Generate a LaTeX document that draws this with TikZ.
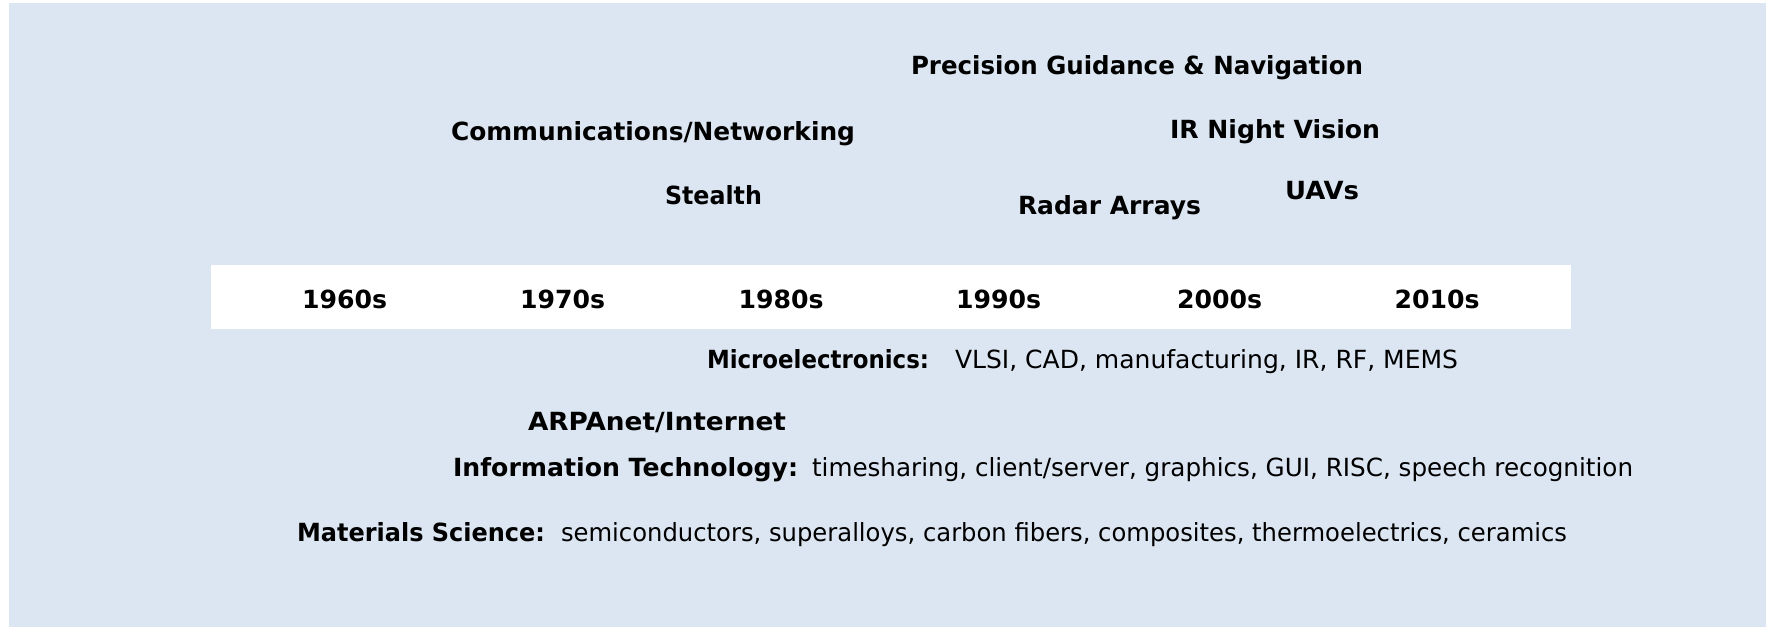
\documentclass[tikz,border=0pt]{standalone}
\usepackage{fontspec}
\setmainfont{DejaVu Sans}
\usepackage{graphicx}
\definecolor{bgblue}{RGB}{220,230,242}
\newcommand\fitw[2]{\resizebox{#1}{\height}{#2}}
\tikzset{
  lbl/.style={anchor=base west, inner sep=0pt, outer sep=0pt, font=\fontsize{25}{30}\selectfont\bfseries, text=black},
  txt/.style={anchor=base west, inner sep=0pt, outer sep=0pt, font=\fontsize{25}{30}\selectfont, text=black},
  decade/.style={anchor=base, inner sep=0pt, outer sep=0pt, font=\fontsize{25}{30}\selectfont\bfseries, text=black}
}
\begin{document}
\begin{tikzpicture}[x=1pt,y=-1pt]
\useasboundingbox (0,0) rectangle (1766,627);
\fill[white] (0,0) rectangle (1766,627);
\fill[bgblue] (9,3) rectangle (1766,627);
\fill[white] (211,265) rectangle (1571,329);
% top labels
\node[lbl] (prec) at (911,74) {\fitw{452pt}{Precision Guidance \& Navigation}};
\node[lbl] (comm) at (451,140) {\fitw{404pt}{Communications/Networking}};
\node[lbl] (irnv) at (1170,138) {\fitw{210pt}{IR Night Vision}};
\node[lbl] (stealth) at (665,204) {\fitw{97pt}{Stealth}};
\node[lbl] (radar) at (1018,214) {\fitw{183pt}{Radar Arrays}};
\node[lbl] (uavs) at (1285,199) {\fitw{74pt}{UAVs}};
% decades
\node[decade] (d60) at (344.5,308) {\fitw{85pt}{1960s}};
\node[decade] (d70) at (562.5,308) {\fitw{85pt}{1970s}};
\node[decade] (d80) at (781,308) {\fitw{85pt}{1980s}};
\node[decade] (d90) at (998.5,308) {\fitw{85pt}{1990s}};
\node[decade] (d00) at (1219.5,308) {\fitw{85pt}{2000s}};
\node[decade] (d10) at (1437,308) {\fitw{85pt}{2010s}};
% bottom labels
\node[lbl] (micro) at (707,368) {\fitw{222pt}{Microelectronics:}};
\node[txt] (microt) at (955,368) {\fitw{503pt}{VLSI, CAD, manufacturing, IR, RF, MEMS}};
\node[lbl] (arpa) at (528,430) {\fitw{258pt}{ARPAnet/Internet}};
\node[lbl] (info) at (453,476) {\fitw{345pt}{Information Technology:}};
\node[txt] (infot) at (812,476) {\fitw{821pt}{timesharing, client/server, graphics, GUI, RISC, speech recognition}};
\node[lbl] (mat) at (297,541) {\fitw{248pt}{Materials Science:}};
\node[txt] (matt) at (561,541) {\fitw{1006pt}{semiconductors, superalloys, carbon fibers, composites, thermoelectrics, ceramics}};
\end{tikzpicture}
\end{document}
